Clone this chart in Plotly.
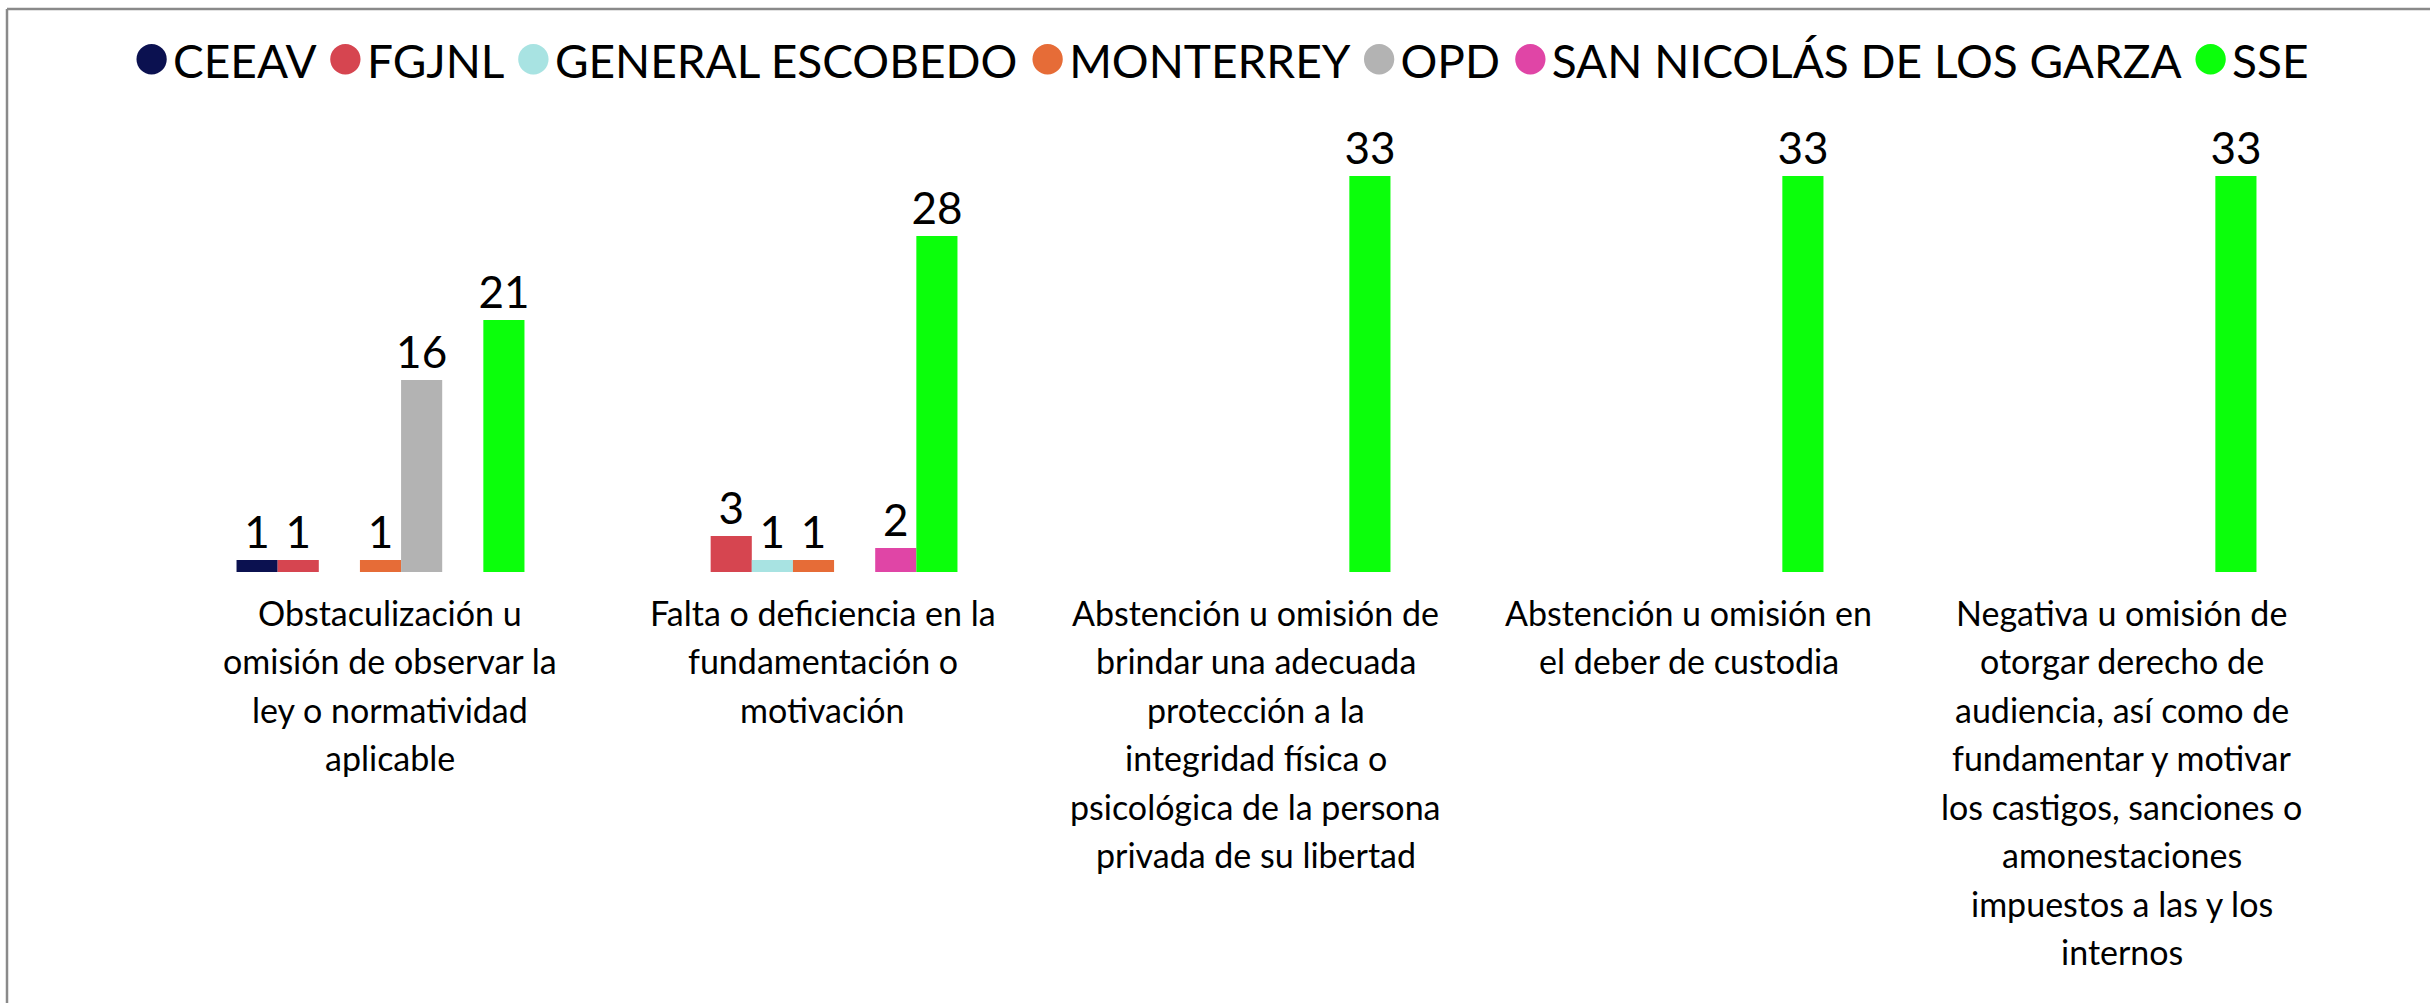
import plotly.graph_objects as go

# Category labels, one entry per wrapped line as set under each group
categories = [
    "Obstaculización u omisión de observar la ley o normatividad aplicable",
    "Falta o deficiencia en la fundamentación o motivación",
    "Abstención u omisión de brindar una adecuada protección a la integridad física o psicológica de la persona privada de su libertad",
    "Abstención u omisión en el deber de custodia",
    "Negativa u omisión de otorgar derecho de audiencia, así como de fundamentar y motivar los castigos, sanciones o amonestaciones impuestos a las y los internos",
]
category_lines = [
    ["Obstaculización u", "omisión de observar la", "ley o normatividad", "aplicable"],
    ["Falta o deficiencia en la", "fundamentación o", "motivación"],
    ["Abstención u omisión de", "brindar una adecuada", "protección a la",
     "integridad física o", "psicológica de la persona", "privada de su libertad"],
    ["Abstención u omisión en", "el deber de custodia"],
    ["Negativa u omisión de", "otorgar derecho de", "audiencia, así como de",
     "fundamentar y motivar", "los castigos, sanciones o", "amonestaciones",
     "impuestos a las y los", "internos"],
]

series_names = ["CEEAV", "FGJNL", "GENERAL ESCOBEDO", "MONTERREY", "OPD",
                "SAN NICOLÁS DE LOS GARZA", "SSE"]

ceeav = [1, None, None, None, None]
fgjnl = [1, 3, None, None, None]
general_escobedo = [None, 1, None, None, None]
monterrey = [1, 1, None, None, None]
opd = [16, None, None, None, None]
san_nicolas = [None, 2, None, None, None]
sse = [21, 28, 33, 33, 33]

series_values = [ceeav, fgjnl, general_escobedo, monterrey, opd, san_nicolas, sse]

colors = ["#0b1150", "#d64550", "#a8e3e2", "#e66c37", "#b3b3b3", "#e045a6", "#0bff0b"]

FONT = "Lato"

# Canvas and plot-area geometry (pixels)
W, H = 2430, 1003
M_L, M_R, M_T, M_B = 164, 101, 100, 431
PW = W - M_L - M_R
PH = H - M_T - M_B


def paper_x(px):
    return (px - M_L) / PW


def paper_y(py):
    return (H - M_B - py) / PH


fig = go.Figure()

for name, vals, col in zip(series_names, series_values, colors):
    fig.add_trace(go.Bar(
        x=categories,
        y=vals,
        name=name,
        marker=dict(color=col, line=dict(width=0)),
        text=["" if v is None else str(v) for v in vals],
        textposition="outside",
        textfont=dict(family=FONT, size=44, color="#000000"),
        constraintext="none",
        cliponaxis=False,
        showlegend=False,
    ))

# Wrapped category labels under each group (fixed line pitch)
LABEL_TOP = 40      # distance from baseline to centre of first line
LINE_PITCH = 48.5   # distance between successive lines
for cat, lines in zip(categories, category_lines):
    for i, line in enumerate(lines):
        fig.add_annotation(
            x=cat, y=0, xref="x", yref="y",
            xanchor="center", yanchor="middle",
            xshift=9, yshift=-(LABEL_TOP + i * LINE_PITCH),
            text=line, showarrow=False,
            font=dict(family=FONT, size=34, color="#000000"),
        )

# Legend row: coloured dots followed by the series names
gap = "\u00a0"
legend_parts = [
    f'<span style="color:{c};font-size:62px">●</span>\u200a{n}'
    for n, c in zip(series_names, colors)
]
fig.add_annotation(
    x=paper_x(1220), y=paper_y(54),
    xref="paper", yref="paper",
    xanchor="center", yanchor="middle",
    text=gap.join(legend_parts),
    showarrow=False,
    font=dict(family=FONT, size=46, color="#000000"),
)

# Frame lines along the top and left edges
line_col = "#8a8a8a"
fig.add_shape(type="line", xref="paper", yref="paper",
              x0=paper_x(7), x1=paper_x(W + 5), y0=paper_y(9), y1=paper_y(9),
              line=dict(color=line_col, width=2.5))
fig.add_shape(type="line", xref="paper", yref="paper",
              x0=paper_x(7), x1=paper_x(7), y0=paper_y(9), y1=paper_y(H + 5),
              line=dict(color=line_col, width=2.5))

fig.update_layout(
    width=W, height=H,
    margin=dict(l=M_L, r=M_R, t=M_T, b=M_B, pad=0),
    paper_bgcolor="#ffffff",
    plot_bgcolor="#ffffff",
    barmode="group",
    bargap=0.335,
    bargroupgap=0,
    showlegend=False,
    font=dict(family=FONT, color="#000000"),
)

fig.update_xaxes(
    showgrid=False, zeroline=False, showline=False, ticks="",
    showticklabels=False,
)
fig.update_yaxes(
    range=[0, PH / 12.0],
    visible=False,
    showgrid=False, zeroline=False,
)

fig.write_html("out.html")
